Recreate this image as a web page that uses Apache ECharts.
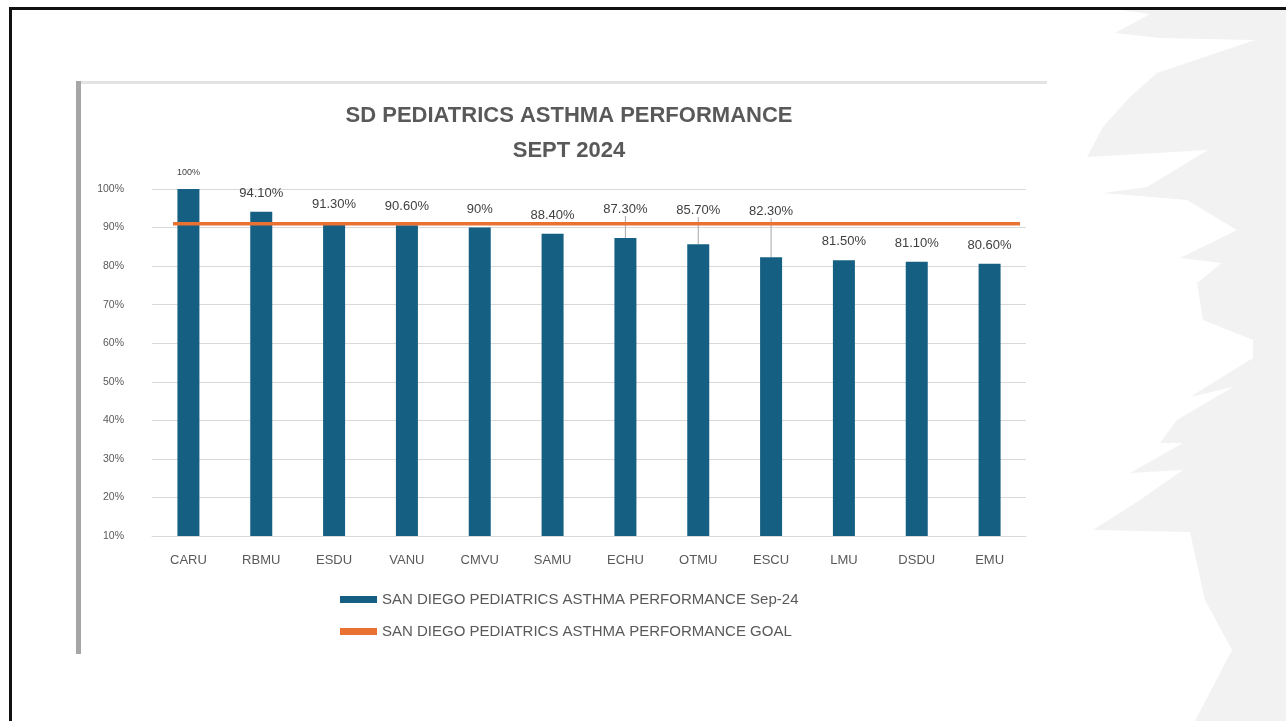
<!DOCTYPE html>
<html lang="en">
    <head>
        <meta charset="UTF-8">
        <title>SD Pediatrics Asthma Performance</title>
        <style type="text/css">
            body {margin: 0px; background-color: #ffffff;}
        </style>
        <script src="https://cdn.jsdelivr.net/npm/echarts@6/dist/echarts.min.js"></script>
    </head>
    <body>
        <div id="main" style="width: 1286px; height: 721px;"></div>
        <script type="text/javascript">
            // units, in the order shown
            var units = ['CARU', 'RBMU', 'ESDU', 'VANU', 'CMVU', 'SAMU', 'ECHU', 'OTMU', 'ESCU', 'LMU', 'DSDU', 'EMU'];
            // Sep-24 performance, percent
            var sep24 = [100, 94.1, 91.3, 90.6, 90, 88.4, 87.3, 85.7, 82.3, 81.5, 81.1, 80.6];
            // goal, percent
            var goal = [91, 91, 91, 91, 91, 91, 91, 91, 91, 91, 91, 91];
            var yTicks = ['10%', '20%', '30%', '40%', '50%', '60%', '70%', '80%', '90%', '100%'];

            var barName = 'SAN DIEGO PEDIATRICS ASTHMA PERFORMANCE Sep-24';
            var goalName = 'SAN DIEGO PEDIATRICS ASTHMA PERFORMANCE GOAL';
            var grey = '#595959';

            // labels pulled up with a leader line in the original
            var lifted = {'ECHU': 10, 'OTMU': 15, 'ESCU': 27};

            function pct(v) {
                return (Math.round(v) === v ? v : v.toFixed(2)) + '%';
            }

            var barData = [];
            for (var i = 0; i < units.length; i++) {
                var item = {value: sep24[i]};
                if (i === 0) {
                    item.label = {fontSize: 9};
                }
                if (lifted[units[i]]) {
                    item.labelLine = {show: true};
                }
                barData.push(item);
            }

            // right side decoration of the slide
            var decor = [[1100, 7], [1150, 14], [1115, 33], [1160, 38], [1255, 40], [1157, 73], [1130, 97],
                [1103, 127], [1087, 157], [1208, 150], [1147, 187], [1103, 193], [1187, 200], [1237, 230],
                [1180, 258], [1222, 263], [1197, 283], [1203, 320], [1253, 340], [1253, 358], [1190, 397],
                [1233, 387], [1177, 420], [1160, 443], [1183, 443], [1130, 473], [1183, 470], [1140, 500],
                [1093, 530], [1190, 532], [1205, 600], [1232, 650], [1195, 721], [1286, 721], [1286, 7]];

            var fontName = 'Liberation Sans';
            var myChart = echarts.init(document.getElementById('main'));
            var option = {
                backgroundColor: '#ffffff',
                animation: false,
                title: {
                    text: 'SD PEDIATRICS ASTHMA PERFORMANCE\nSEPT 2024',
                    left: 564,
                    textAlign: 'center',
                    top: 93,
                    textStyle: {
                        color: grey,
                        fontFamily: fontName,
                        fontWeight: 'bold',
                        fontSize: 22,
                        lineHeight: 35
                    }
                },
                legend: {
                    orient: 'vertical',
                    left: 335,
                    top: 587,
                    itemWidth: 37,
                    itemHeight: 7,
                    itemGap: 17,
                    data: [{name: barName, icon: 'rect'}, {name: goalName, icon: 'rect'}],
                    textStyle: {color: grey, fontFamily: fontName, fontSize: 15}
                },
                grid: [
                    {left: 152, right: 260, top: 189, bottom: 185},
                    // goal line runs a bit inside the bar area
                    {left: 173, right: 266, top: 189, bottom: 185}
                ],
                xAxis: [{
                    type: 'category',
                    data: units,
                    gridIndex: 0,
                    axisTick: {show: false},
                    axisLine: {lineStyle: {color: '#d9d9d9'}},
                    axisLabel: {color: grey, fontFamily: fontName, fontSize: 13, margin: 18}
                }, {
                    type: 'category',
                    data: units,
                    gridIndex: 1,
                    show: false,
                    boundaryGap: false
                }],
                yAxis: [{
                    type: 'value',
                    gridIndex: 0,
                    min: 10,
                    max: 100,
                    interval: 10,
                    axisLine: {show: false},
                    axisTick: {show: false},
                    splitLine: {lineStyle: {color: '#d9d9d9'}},
                    axisLabel: {
                        color: grey,
                        fontFamily: fontName,
                        fontSize: 10.5,
                        margin: 28,
                        formatter: function (v) { return yTicks[Math.round(v / 10) - 1]; }
                    }
                }, {
                    type: 'value',
                    gridIndex: 1,
                    min: 10,
                    max: 100,
                    interval: 10,
                    show: false
                }],
                series: [{
                    name: barName,
                    type: 'bar',
                    data: barData,
                    barWidth: 22,
                    itemStyle: {color: '#156082'},
                    label: {
                        show: true,
                        position: 'top',
                        distance: 12,
                        color: '#404040',
                        fontFamily: fontName,
                        fontSize: 13,
                        formatter: function (p) { return pct(p.value); }
                    },
                    labelLine: {show: false, lineStyle: {color: '#a6a6a6', width: 1}},
                    labelLayout: function (p) {
                        var up = lifted[units[p.dataIndex]];
                        return up ? {dy: -up} : {};
                    },
                    z: 2
                }, {
                    name: goalName,
                    type: 'line',
                    xAxisIndex: 1,
                    yAxisIndex: 1,
                    data: goal,
                    symbol: 'none',
                    itemStyle: {color: '#E97132'},
                    lineStyle: {color: '#E97132', width: 3.5},
                    z: 3
                }],
                graphic: [
                    {type: 'polygon', shape: {points: decor}, style: {fill: '#f2f2f2'}, silent: true},
                    {type: 'rect', shape: {x: 9, y: 7, width: 1277, height: 3}, style: {fill: '#111111'}},
                    {type: 'rect', shape: {x: 9, y: 7, width: 3, height: 714}, style: {fill: '#111111'}},
                    {type: 'rect', shape: {x: 76, y: 81, width: 5, height: 573}, style: {fill: '#a6a6a6'}},
                    {type: 'rect', shape: {x: 81, y: 81, width: 966, height: 3}, style: {fill: '#e3e3e3'}}
                ]
            };
            myChart.setOption(option);
        </script>
    </body>
</html>
